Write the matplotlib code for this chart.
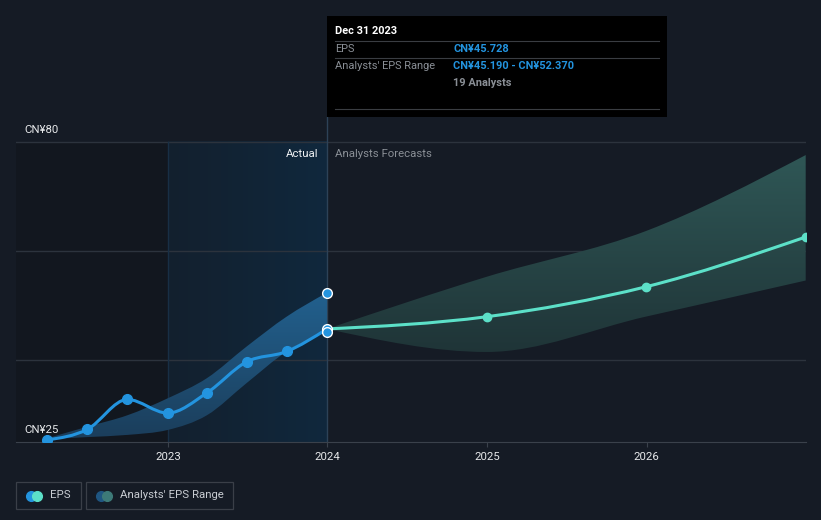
import numpy as np
import matplotlib
matplotlib.use("Agg")
import matplotlib.pyplot as plt
import matplotlib.dates as mdates
from matplotlib.path import Path
from matplotlib.patches import PathPatch, Rectangle
from matplotlib.lines import Line2D
from matplotlib.colors import LinearSegmentedColormap

plt.rcParams['font.family'] = ['Roboto', 'DejaVu Sans']

# ---- data ----
eps_dates = ["2022-03-31", "2022-06-30", "2022-09-30", "2022-12-31",
             "2023-03-31", "2023-06-30", "2023-09-30", "2023-12-31"]
eps_values = [25.4, 27.3, 32.8, 30.3, 34.0, 39.7, 41.6, 45.728]
range_low = [25.5, 25.9, 26.3, 27.2, 29.9, 35.8, 41.6, 45.19]
range_high = [25.7, 27.8, 29.9, 33.0, 36.7, 42.5, 48.0, 52.37]

fc_dates = ["2023-12-31", "2024-12-31", "2025-12-31", "2026-12-31"]
fc_values = [45.728, 47.97, 53.47, 62.58]
fc_low = [45.728, 41.5, 48.0, 54.6]
fc_high = [45.728, 55.3, 63.7, 77.6]

year_ticks = ["2023-01-01", "2024-01-01", "2025-01-01", "2026-01-01"]
year_labels = ["2023", "2024", "2025", "2026"]
y_label_vals = [80, 25]
y_label_text = ["CN¥80", "CN¥25"]

BG = "#151b25"
BLUE = "#2394df"
TEAL = "#5ce0c8"
W, H = 821, 520


def dn(dates):
    return mdates.datestr2num(dates)


def monotone_verts(x, y):
    # cubic bezier control points, monotone-x style
    x = np.asarray(x, float)
    y = np.asarray(y, float)
    n = len(x)
    h = np.diff(x)
    s = np.diff(y) / h
    t = np.zeros(n)
    for i in range(1, n - 1):
        p = (s[i - 1] * h[i] + s[i] * h[i - 1]) / (h[i - 1] + h[i])
        sg = (1 if s[i - 1] >= 0 else -1) + (1 if s[i] >= 0 else -1)
        t[i] = sg * min(abs(s[i - 1]), abs(s[i]), 0.5 * abs(p))
    t[0] = (3 * s[0] - t[1]) / 2
    t[-1] = (3 * s[-1] - t[-2]) / 2
    verts = [(x[0], y[0])]
    for i in range(n - 1):
        dx = h[i] / 3
        verts += [(x[i] + dx, y[i] + dx * t[i]),
                  (x[i + 1] - dx, y[i + 1] - dx * t[i + 1]),
                  (x[i + 1], y[i + 1])]
    return verts


def line_path(x, y):
    v = monotone_verts(x, y)
    return Path(v, [Path.MOVETO] + [Path.CURVE4] * (len(v) - 1))


def band_path(x, lo, hi):
    up = monotone_verts(x, hi)
    low = monotone_verts(x, lo)[::-1]
    verts = up + low + [up[0]]
    codes = ([Path.MOVETO] + [Path.CURVE4] * (len(up) - 1)
             + [Path.LINETO] + [Path.CURVE4] * (len(low) - 1) + [Path.CLOSEPOLY])
    return Path(verts, codes)


def px(x, y):
    return x / W, 1 - y / H


fig = plt.figure(figsize=(W / 100, H / 100), dpi=100, facecolor=BG)
ax = fig.add_axes([16 / W, 78 / H, (805.7 - 16) / W, (442 - 117) / H])
ax.set_facecolor(BG)

xmin, xmax = mdates.datestr2num("2022-01-18"), mdates.datestr2num("2026-12-31")
ymin, ymax = 25, 25 + 325 / 5.455
y23, y24 = dn(["2023-01-01", "2024-01-01"])

# background regions
ax.fill_between([xmin, y23], 25, 80, color="#12171f", lw=0, zorder=0)
grad_h = np.linspace(0, 1, 512).reshape(1, -1)
cm_act = LinearSegmentedColormap.from_list("act", ["#13202e", "#10283d"])
ax.imshow(grad_h, extent=[y23, y24, 25, 80], aspect="auto", cmap=cm_act,
          origin="lower", zorder=0.5, interpolation="bilinear")

# grid
for g in [40, 60, 80]:
    ax.axhline(g, color="#2c333d", lw=1, zorder=1)
ax.plot([y23, y23], [25, 80], color="#182f45", lw=1, zorder=1)
ax.plot([y24, y24], [25, ymax], color="#2d4257", lw=1, zorder=1, clip_on=False)

# historical range band, vertical gradient
xh = dn(eps_dates)
hp = PathPatch(band_path(xh, range_low, range_high), facecolor="none", lw=0)
ax.add_patch(hp)
grad_v = np.linspace(0, 1, 512).reshape(-1, 1)
cm_h = LinearSegmentedColormap.from_list("h", ["#1b3d5a", "#22618f"])
im = ax.imshow(grad_v, extent=[xh[0], xh[-1], 25, 53], aspect="auto",
               cmap=cm_h, origin="lower", zorder=2, interpolation="bilinear")
im.set_clip_path(hp)

# forecast band
xf = dn(fc_dates)
fp = PathPatch(band_path(xf, fc_low, fc_high), facecolor="none", lw=0)
ax.add_patch(fp)
cm_f = LinearSegmentedColormap.from_list("f", ["#1f3437", "#2f5756"])
im2 = ax.imshow(grad_v, extent=[xf[0], xf[-1], 41, 78], aspect="auto",
                cmap=cm_f, origin="lower", zorder=2, interpolation="bilinear")
im2.set_clip_path(fp)

# lines
ax.add_patch(PathPatch(line_path(xf, fc_values), fill=False, edgecolor=TEAL,
                       lw=2.2, capstyle="round", zorder=3))
ax.plot(xf[1:], fc_values[1:], "o", color=TEAL, ms=6, zorder=4)
ax.add_patch(PathPatch(line_path(xh, eps_values), fill=False, edgecolor=BLUE,
                       lw=2.2, capstyle="round", zorder=3))
ax.plot(xh[:-1], eps_values[:-1], "o", color=BLUE, ms=7, zorder=4)
ax.plot([xh[-1]] * 3, [range_high[-1], eps_values[-1], range_low[-1]], "o",
        color=BLUE, mec="white", mew=1, ms=7, zorder=5, clip_on=False)

ax.set_xlim(xmin, xmax)
ax.set_ylim(ymin, ymax)

for sp in ["top", "right", "left"]:
    ax.spines[sp].set_visible(False)
ax.spines["bottom"].set_color("#3a414b")
ax.set_yticks([])
ax.set_xticks(dn(year_ticks))
ax.set_xticklabels(year_labels, color="#e6e8ea", fontsize=8.2)
ax.tick_params(axis="x", length=3.5, color="#3a414b", pad=4)

# y labels sit just above their value
for val, lab in zip(y_label_vals, y_label_text):
    ax.annotate(lab, xy=(8 / 789.7, val), xycoords=ax.get_yaxis_transform(),
                xytext=(0, 12), textcoords="offset pixels", color="#e6e8ea",
                fontsize=8.2, va="center", ha="left", annotation_clip=False)

fig.text(*px(318, 154), "Actual", color="#eef0f2", fontsize=8.2,
         ha="right", va="center")
fig.text(*px(335, 154), "Analysts Forecasts", color="#8a8f96", fontsize=8.2,
         ha="left", va="center")

# tooltip
fig.add_artist(Rectangle(px(327, 117), 340 / W, 101 / H, transform=fig.transFigure,
                         facecolor="#000000", edgecolor="none", zorder=10))
for yy in [41.3, 58.3, 109.3]:
    fig.add_artist(Line2D([335 / W, 659 / W], [1 - yy / H] * 2, transform=fig.transFigure,
                          color="#3a3d42", lw=0.8, zorder=11))
fs_tip = 7.9
fig.text(*px(335, 31), "Dec 31 2023", color="white", fontsize=fs_tip,
         fontweight="bold", va="center", zorder=12)
fig.text(*px(335, 49), "EPS", color="#8a8f96", fontsize=fs_tip, va="center", zorder=12)
fig.text(*px(453, 49), "CN¥45.728", color=BLUE, fontsize=fs_tip,
         fontweight="bold", va="center", zorder=12)
fig.text(*px(335, 66), "Analysts' EPS Range", color="#8a8f96", fontsize=fs_tip,
         va="center", zorder=12)
fig.text(*px(453, 66), "CN¥45.190 - CN¥52.370", color=BLUE, fontsize=fs_tip,
         fontweight="bold", va="center", zorder=12)
fig.text(*px(453, 83), "19 Analysts", color="#8a8f96", fontsize=fs_tip,
         fontweight="bold", va="center", zorder=12)

# legend
legend_items = [("EPS", BLUE, TEAL, 16, 81),
                ("Analysts' EPS Range", "#1f5682", "#3d7a78", 86, 233)]
for lab, c1, c2, x0, x1 in legend_items:
    fig.add_artist(Rectangle(px(x0, 509), (x1 - x0) / W, 27 / H, transform=fig.transFigure,
                             facecolor=BG, edgecolor="#3a3f48", lw=0.9))
    for cx, c in [(x0 + 15, c1), (x0 + 21, c2)]:
        fig.add_artist(Line2D([cx / W], [1 - 495.5 / H], transform=fig.transFigure,
                              marker="o", ms=7, color=c, lw=0))
    fig.text(*px(x0 + 34, 495.5), lab, color="#c8ccd2", fontsize=8.2, va="center")

fig.savefig("out.png", dpi=100, facecolor=BG)
